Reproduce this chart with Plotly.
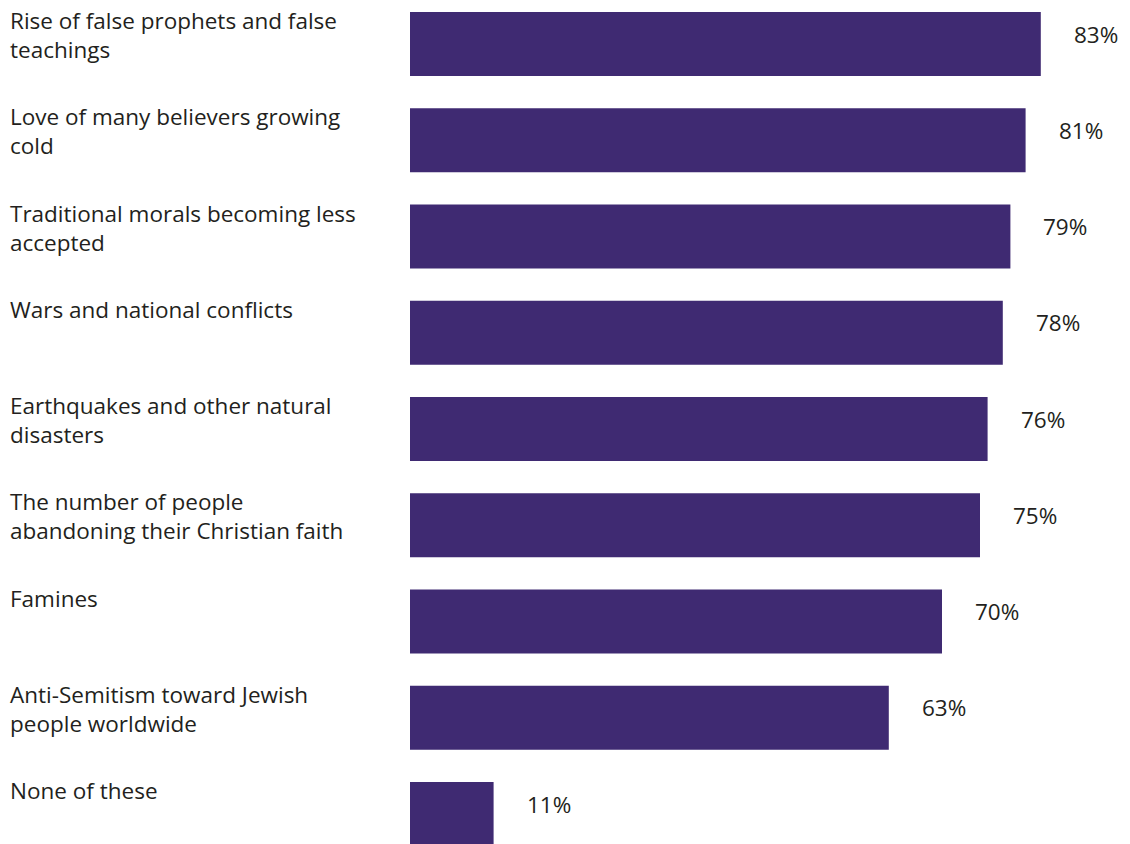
import plotly.graph_objects as go

categories = [
    "Rise of false prophets and false<br>teachings",
    "Love of many believers growing<br>cold",
    "Traditional morals becoming less<br>accepted",
    "Wars and national conflicts",
    "Earthquakes and other natural<br>disasters",
    "The number of people<br>abandoning their Christian faith",
    "Famines",
    "Anti-Semitism toward Jewish<br>people worldwide",
    "None of these",
]
values = [83, 81, 79, 78, 76, 75, 70, 63, 11]
value_labels = ["83%", "81%", "79%", "78%", "76%", "75%", "70%", "63%", "11%"]

BAR_COLOR = "#3f2a72"
TEXT_COLOR = "#231f20"
FONT = "Open Sans"

W, H = 1130, 844
x0_px = 410
px_per_unit = 7.6
first_center_px = 44
pitch_px = 96.25
bar_h_px = 64

ys = list(range(len(categories)))

fig = go.Figure(
    go.Bar(
        x=values,
        y=ys,
        orientation="h",
        marker=dict(color=BAR_COLOR, line=dict(width=0)),
        width=bar_h_px / pitch_px,
        hoverinfo="skip",
    )
)

annotations = []
for i, (cat, v, lab) in enumerate(zip(categories, values, value_labels)):
    annotations.append(dict(
        x=8 / W, xref="paper", y=i, yref="y",
        text=cat, showarrow=False, xanchor="left", yanchor="top",
        align="left", yshift=bar_h_px / 2 + 9,
        font=dict(family=FONT, size=22.5, color=TEXT_COLOR),
    ))
    annotations.append(dict(
        x=v, xref="x", y=i, yref="y",
        text=lab, showarrow=False, xanchor="left", yanchor="middle",
        xshift=31, yshift=10,
        font=dict(family=FONT, size=22.5, color=TEXT_COLOR),
    ))

top_val = (0 - first_center_px) / pitch_px
bot_val = (H - first_center_px) / pitch_px

fig.update_layout(
    width=W, height=H,
    margin=dict(l=0, r=0, t=0, b=0),
    paper_bgcolor="white", plot_bgcolor="white",
    showlegend=False,
    xaxis=dict(domain=[x0_px / W, 1], range=[0, (W - x0_px) / px_per_unit],
               visible=False, fixedrange=True),
    yaxis=dict(range=[bot_val, top_val], visible=False, fixedrange=True),
    annotations=annotations,
    font=dict(family=FONT, color=TEXT_COLOR),
)

fig.write_html(
    "out.html",
    config={"displayModeBar": False},
    post_script="document.body.style.margin='0px';document.body.style.padding='0px';",
)
